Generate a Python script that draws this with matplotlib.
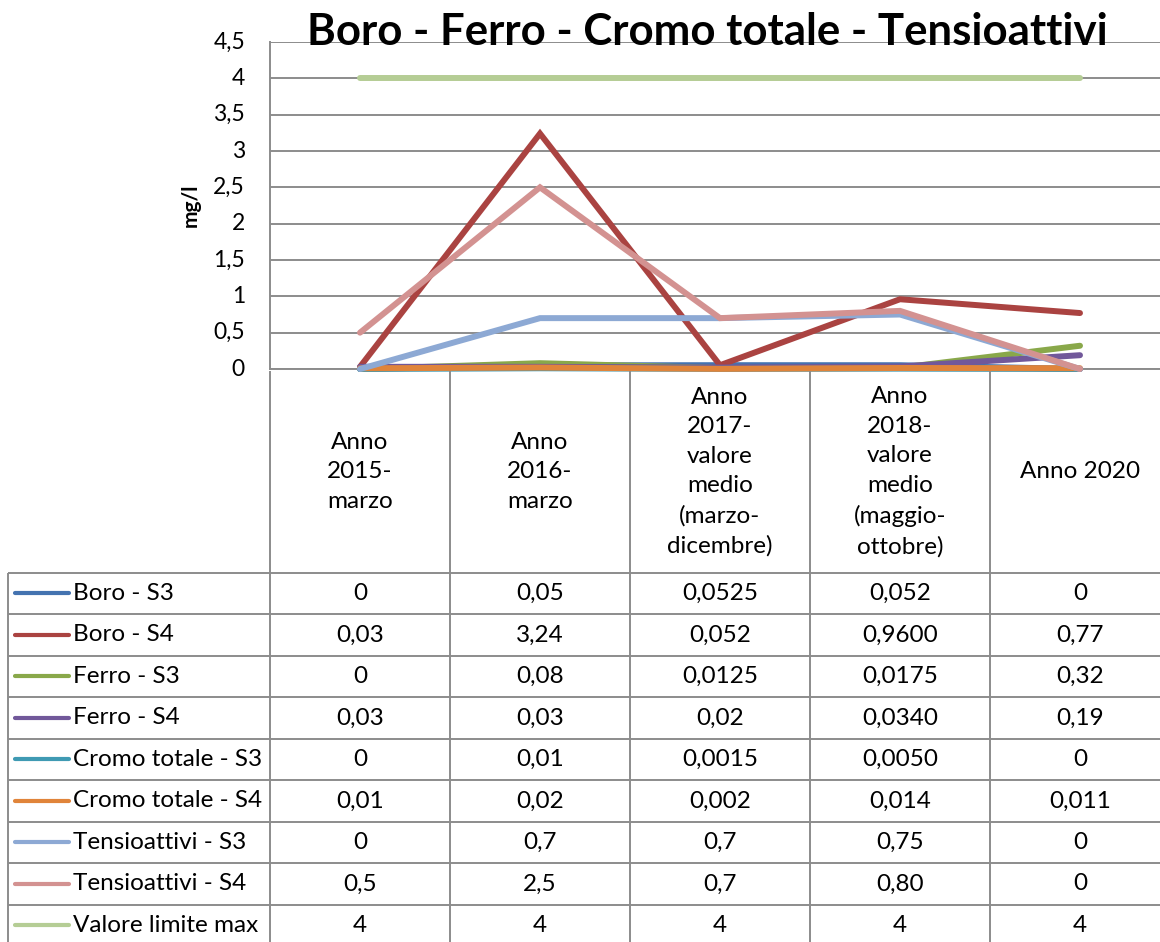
import numpy as np
import matplotlib
matplotlib.use('Agg')
import matplotlib.pyplot as plt
from matplotlib.transforms import blended_transform_factory

plt.rcParams['font.family'] = ['Lato', 'DejaVu Sans']

# Categories (periodi di campionamento)
categories = [
    "Anno\n2015-\nmarzo",
    "Anno\n2016-\nmarzo",
    "Anno\n2017-\nvalore\nmedio\n(marzo-\ndicembre)",
    "Anno\n2018-\nvalore\nmedio\n(maggio-\nottobre)",
    "Anno 2020",
]

# Valori in mg/l come riportati nella tabella (virgola decimale)
boro_s3 = ["0", "0,05", "0,0525", "0,052", "0"]
boro_s4 = ["0,03", "3,24", "0,052", "0,9600", "0,77"]
ferro_s3 = ["0", "0,08", "0,0125", "0,0175", "0,32"]
ferro_s4 = ["0,03", "0,03", "0,02", "0,0340", "0,19"]
cromo_s3 = ["0", "0,01", "0,0015", "0,0050", "0"]
cromo_s4 = ["0,01", "0,02", "0,002", "0,014", "0,011"]
tens_s3 = ["0", "0,7", "0,7", "0,75", "0"]
tens_s4 = ["0,5", "2,5", "0,7", "0,80", "0"]
limite_max = ["4", "4", "4", "4", "4"]

series_names = [
    "Boro - S3", "Boro - S4", "Ferro - S3", "Ferro - S4",
    "Cromo totale - S3", "Cromo totale - S4",
    "Tensioattivi - S3", "Tensioattivi - S4", "Valore limite max",
]
series_values = [boro_s3, boro_s4, ferro_s3, ferro_s4, cromo_s3,
                 cromo_s4, tens_s3, tens_s4, limite_max]
series_colors = ["#4473B0", "#AA4341", "#89A84A", "#71589A", "#3F9AB3",
                 "#E0843A", "#8DA9D4", "#D39291", "#B5CD95"]

y_ticks = np.arange(0, 4.51, 0.5)

GRID = "#8C8C8C"
W, H = 1160, 942
FS_TICK = 16.5
FS_TAB = 17.5


def to_float(s):
    return float(s.replace(",", "."))


fig = plt.figure(figsize=(W / 100, H / 100), dpi=100)

# plot area (extends past the right border like the spreadsheet export)
ax = fig.add_axes([270 / W, (H - 369) / H, 900 / W, (369 - 42) / H])
ax.set_xlim(-0.5, len(categories) - 0.5)
ax.set_ylim(0, 4.5)
ax.set_yticks(y_ticks)
ax.set_xticks([])
ax.tick_params(axis="y", length=0, labelleft=False)
ax.yaxis.grid(True, color=GRID, linewidth=1.4)
ax.set_axisbelow(True)
for name, sp in ax.spines.items():
    sp.set_visible(name in ("left", "bottom"))
    sp.set_color(GRID)
    sp.set_linewidth(1.4)

x = np.arange(len(categories))
for name, vals, col in zip(series_names, series_values, series_colors):
    ax.plot(x, [to_float(v) for v in vals], color=col, linewidth=4.3,
            solid_capstyle="round", solid_joinstyle="miter", label=name,
            zorder=3, clip_on=False)

ax.set_ylabel("mg/l", fontsize=15, fontweight="bold")
ax.yaxis.set_label_coords((201 - 270) / 900, (369 - 205) / 327)

fig.text(707 / W, 1 - 32 / H, "Boro - Ferro - Cromo totale - Tensioattivi",
         ha="center", va="center", fontsize=31.5, fontweight="bold")

# data table below the plot, in pixel coordinates
tab = fig.add_axes([0, 0, 1, 1])
tab.set_xlim(0, W)
tab.set_ylim(H, 0)
tab.axis("off")
tab.patch.set_visible(False)
cols = blended_transform_factory(ax.transData, tab.transData)
rows = blended_transform_factory(tab.transData, ax.transData)

# y tick labels, right aligned a little left of the axis
for t in y_ticks:
    tab.text(245, t, f"{t:g}".replace(".", ","), transform=rows,
             ha="right", va="center", fontsize=FS_TICK)

row_top = 572.7
row_h = 41.5
n_rows = len(series_names)

# vertical rules: category boundaries
for b in np.arange(len(categories) + 1) - 0.5:
    tab.plot([b, b], [371, H], color=GRID, lw=1.4, transform=cols,
             solid_capstyle="butt", clip_on=False)
tab.plot([8, 8], [row_top, H], color=GRID, lw=1.4, solid_capstyle="butt")
for k in range(n_rows + 1):
    yy = row_top + k * row_h
    tab.plot([8, W], [yy, yy], color=GRID, lw=1.4, solid_capstyle="butt")

# category header cells
for i, cat in enumerate(categories):
    tab.text(i, (369 + row_top) / 2 + 1, cat, transform=cols, ha="center",
             va="center", fontsize=FS_TAB, linespacing=1.5)

# table rows with legend keys
for r, (name, vals, col) in enumerate(zip(series_names, series_values, series_colors)):
    yc = row_top + (r + 0.5) * row_h
    tab.plot([15, 69], [yc, yc], color=col, lw=3, solid_capstyle="round")
    tab.text(73, yc, name, ha="left", va="center", fontsize=FS_TAB)
    for i, v in enumerate(vals):
        tab.text(i, yc, v, transform=cols, ha="center", va="center", fontsize=FS_TAB)

fig.savefig("out.png", dpi=100)
